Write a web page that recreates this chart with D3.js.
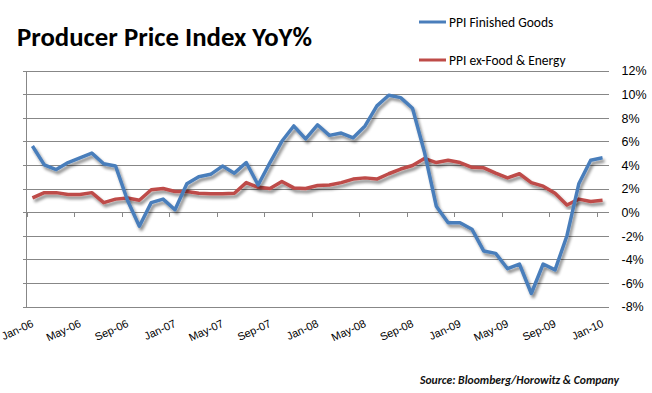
<!DOCTYPE html>
<html>
<head>
<meta charset="utf-8">
<style>
    body { margin: 0; background: #fff; }
    svg { display: block; font-family: Carlito, Calibri, Lato, sans-serif; }
    .grid line { stroke: #878787; stroke-width: 1; shape-rendering: crispEdges; }
    .yaxis text { fill: #000; font-size: 12.5px; }
    .xaxis text { fill: #000; font-size: 11px; }
    .plot path { fill: none; stroke-width: 3.5px; stroke-linejoin: round; }
</style>
</head>
<body>
<svg class="vis"></svg>
<script src="https://cdnjs.cloudflare.com/ajax/libs/d3/7.8.5/d3.min.js"></script>
<script>
    // monthly points, Jan-06 .. Jan-10
    var months = d3.timeMonths(new Date(2006, 0, 1), new Date(2010, 1, 1));

    var ppiFinished = [5.6, 4.0, 3.6, 4.2, 4.6, 5.0, 4.1, 3.9, 1.0, -1.2, 0.8, 1.1,
                       0.2, 2.4, 3.0, 3.2, 3.9, 3.3, 4.2, 2.3, 4.2, 6.0, 7.3, 6.2,
                       7.4, 6.5, 6.7, 6.3, 7.3, 9.0, 9.9, 9.7, 8.8, 5.1, 0.5, -0.9,
                       -0.9, -1.45, -3.3, -3.5, -4.8, -4.4, -6.9, -4.4, -4.9, -2.0, 2.4, 4.4,
                       4.6];

    var ppiCore = [1.2, 1.65, 1.65, 1.5, 1.5, 1.65, 0.8, 1.1, 1.2, 1.0, 1.9, 2.0,
                   1.75, 1.75, 1.6, 1.55, 1.55, 1.6, 2.5, 2.1, 2.0, 2.6, 2.05, 2.0,
                   2.25, 2.3, 2.5, 2.8, 2.9, 2.8, 3.25, 3.65, 3.95, 4.55, 4.2, 4.4,
                   4.2, 3.8, 3.75, 3.3, 2.9, 3.25, 2.5, 2.2, 1.6, 0.6, 1.1, 0.9,
                   1.0];

    var yTicks = [-8, -6, -4, -2, 0, 2, 4, 6, 8, 10, 12];
    var xTickLabels = ["Jan-06", "May-06", "Sep-06", "Jan-07", "May-07", "Sep-07", "Jan-08",
                       "May-08", "Sep-08", "Jan-09", "May-09", "Sep-09", "Jan-10"];

    var series = [
        {name: "PPI Finished Goods", values: ppiFinished, color: "#4A7EBB"},
        {name: "PPI ex-Food & Energy", values: ppiCore, color: "#BE4B48"}
    ];

    var width = 652, height = 393;
    var plotL = 26.5, plotR = 608.5, plotT = 70.5, plotB = 306.5;

    var vis = d3.select("svg.vis").attr("width", width).attr("height", height);

    var defs = vis.append("defs");
    var f = defs.append("filter").attr("id", "shadow")
        .attr("x", "-5%").attr("y", "-5%").attr("width", "110%").attr("height", "115%");
    f.append("feGaussianBlur").attr("in", "SourceAlpha").attr("stdDeviation", 1.6).attr("result", "b");
    f.append("feOffset").attr("in", "b").attr("dx", 2).attr("dy", 3).attr("result", "o");
    f.append("feComponentTransfer").attr("in", "o").attr("result", "s")
        .append("feFuncA").attr("type", "linear").attr("slope", 0.45);
    var m = f.append("feMerge");
    m.append("feMergeNode").attr("in", "s");
    m.append("feMergeNode").attr("in", "SourceGraphic");

    var x = d3.scaleLinear().domain([0, months.length]).range([plotL, plotR]);
    var y = d3.scaleLinear().domain([-8, 12]).range([plotB, plotT]);

    // gridlines
    vis.append("g").attr("class", "grid")
        .selectAll("line").data(yTicks).enter().append("line")
        .attr("x1", plotL - 4).attr("x2", plotR)
        .attr("y1", d => Math.round(y(d)) + 0.5).attr("y2", d => Math.round(y(d)) + 0.5);

    // left axis line
    vis.append("g").attr("class", "grid").append("line")
        .attr("x1", plotL).attr("x2", plotL).attr("y1", plotT).attr("y2", plotB);

    // right labels
    var yAxis = d3.axisRight(y).tickValues(yTicks).tickSize(0).tickPadding(0)
        .tickFormat(d => d + "%");
    vis.append("g").attr("class", "yaxis")
        .attr("transform", "translate(" + (plotR + 13) + ",0)")
        .call(yAxis)
        .call(g => g.select(".domain").remove())
        .call(g => g.selectAll("text").attr("dy", "0.35em"));

    // category axis at 0%
    var xAxis = d3.axisBottom(x)
        .tickValues(d3.range(0, months.length, 4))
        .tickSize(4).tickPadding(0)
        .tickFormat((d, i) => xTickLabels[i]);
    var xg = vis.append("g").attr("class", "xaxis")
        .attr("transform", "translate(0," + (Math.round(y(0)) + 0.5) + ")")
        .call(xAxis);
    xg.select(".domain").remove();
    xg.selectAll(".tick line").attr("stroke", "#878787").attr("shape-rendering", "crispEdges");
    xg.selectAll(".tick text")
        .attr("transform", "translate(0," + (Math.round(plotB - y(0)) + 23) + ") rotate(-25)")
        .attr("y", 0).attr("dy", 0).attr("x", 8)
        .attr("text-anchor", "end");

    // lines
    var line = d3.line()
        .x((d, i) => x(i + 0.5))
        .y(d => y(d));

    vis.append("g").attr("class", "plot")
        .selectAll("path").data(series.slice().reverse()).enter().append("path")
        .attr("d", d => line(d.values))
        .attr("stroke", d => d.color)
        .attr("filter", "url(#shadow)");

    // title
    vis.append("text")
        .attr("x", 17).attr("y", 46)
        .attr("font-size", "26px").attr("font-weight", "bold")
        .attr("textLength", 295).attr("lengthAdjust", "spacingAndGlyphs")
        .text("Producer Price Index YoY%");

    // legend
    var lg = vis.append("g").selectAll("g").data(series).enter().append("g")
        .attr("transform", (d, i) => "translate(419," + (22 + i * 38) + ")");
    lg.append("line").attr("x1", 0).attr("x2", 27)
        .attr("stroke", d => d.color).attr("stroke-width", 3);
    lg.append("text").attr("x", 30).attr("dy", "0.35em")
        .attr("font-size", "13.5px")
        .text(d => d.name);

    // source
    vis.append("text")
        .attr("x", 420).attr("y", 384)
        .attr("font-size", "11px").attr("font-weight", "bold").attr("font-style", "italic")
        .attr("fill", "#111")
        .attr("textLength", 199).attr("lengthAdjust", "spacingAndGlyphs")
        .text("Source: Bloomberg/Horowitz & Company");
</script>
</body>
</html>
